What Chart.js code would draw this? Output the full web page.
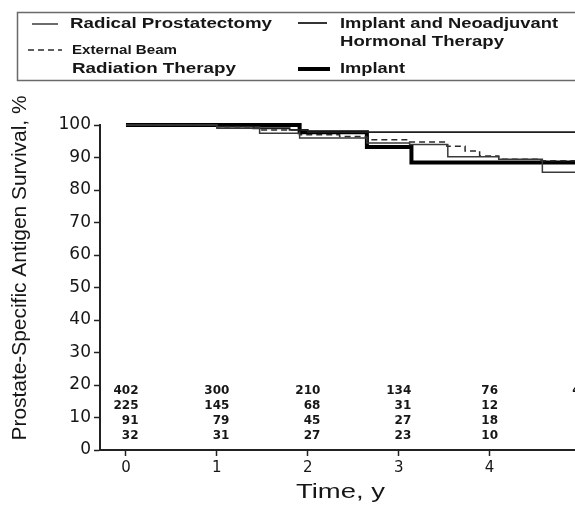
<!DOCTYPE html>
<html>
<head>
<meta charset="utf-8">
<script src="https://cdn.jsdelivr.net/npm/chart.js@4/dist/chart.umd.min.js"></script>
<style>
  html, body { margin: 0; padding: 0; background: #fff; overflow: hidden; width: 575px; height: 505px; }
  #wrap { position: absolute; left: 0; top: 0; width: 640px; height: 505px; }
</style>
</head>
<body>
<div id="wrap"><canvas id="chart" width="640" height="505"></canvas></div>
<script>
// Follow-up time (years) shown on the x axis
const years = [0, 1, 2, 3, 4, 5];

// Kaplan-Meier PSA survival estimates (%) by treatment group
const radicalTimes    = [0, 1.0, 1.47, 1.91, 2.65, 3.12, 3.54, 4.1, 4.58, 5.5];
const radicalSurvival = [100, 99, 97.5, 96, 94.5, 94, 90.2, 89.5, 85.5, 85.5];

const externalTimes    = [0, 1.0, 1.47, 1.91, 2.35, 2.65, 3.12, 3.53, 3.73, 3.89, 4.1, 4.55, 5.5];
const externalSurvival = [100, 99.5, 98.5, 97, 96.5, 95.5, 94.8, 93.5, 92, 90.5, 89.5, 89, 89];

const neoadjTimes    = [0, 1.0, 1.4, 1.8, 2.0, 5.5];
const neoadjSurvival = [100, 99.5, 99, 98.5, 97.8, 97.8];

const implantTimes    = [0, 1.91, 2.65, 3.14, 5.5];
const implantSurvival = [100, 97.8, 93.2, 88.5, 88.5];

// Numbers at risk below the curves, one row per group
const atRiskRow1 = [402, 300, 210, 134, 76, 41];
const atRiskRow2 = [225, 145, 68, 31, 12];
const atRiskRow3 = [91, 79, 45, 27, 18];
const atRiskRow4 = [32, 31, 27, 23, 10];

const seriesLabels = ['Radical Prostatectomy', 'External Beam Radiation Therapy',
                      'Implant and Neoadjuvant Hormonal Therapy', 'Implant'];

const toPoints = (xs, ys) => xs.map((x, i) => ({ x: x, y: ys[i] }));

const INK = '#161616';

// Draw text squeezed/stretched to a given width, centred on (cx, cy)
function fitText(ctx, text, cx, cy, width, font, rotation) {
  ctx.save();
  ctx.font = font;
  const m = ctx.measureText(text).width;
  ctx.translate(cx, cy);
  if (rotation) ctx.rotate(rotation);
  ctx.scale(width / m, 1);
  ctx.textAlign = 'center';
  ctx.textBaseline = 'middle';
  ctx.fillStyle = INK;
  ctx.fillText(text, 0, 0);
  ctx.restore();
}
function fitLeft(ctx, text, left, cy, width, font) {
  fitText(ctx, text, left + width / 2, cy, width, font, 0);
}

const decorations = {
  id: 'decorations',
  afterDraw(chart) {
    const ctx = chart.ctx;
    const ds = chart.data.datasets;
    const xs = chart.scales.x;
    const area = chart.chartArea;

    // legend frame
    ctx.save();
    ctx.strokeStyle = '#6a6a6a';
    ctx.lineWidth = 1.5;
    ctx.strokeRect(17.5, 12.5, 700, 68);
    ctx.restore();

    const sample = (d, x1, x2, y) => {
      ctx.save();
      ctx.strokeStyle = d.borderColor;
      ctx.lineWidth = d.borderWidth;
      ctx.setLineDash(d.borderDash || []);
      ctx.beginPath();
      ctx.moveTo(x1, y);
      ctx.lineTo(x2, y);
      ctx.stroke();
      ctx.restore();
    };
    const bold14 = 'bold 14px "Liberation Sans"';
    sample(ds[0], 32, 58, 24);
    fitLeft(ctx, 'Radical Prostatectomy', 70, 24, 202, bold14);
    sample(ds[1], 28, 62, 50);
    fitLeft(ctx, 'External Beam', 72, 51, 105, 'bold 12px "Liberation Sans"');
    fitLeft(ctx, 'Radiation Therapy', 72, 69, 164, bold14);
    sample(ds[2], 298, 327, 23);
    fitLeft(ctx, 'Implant and Neoadjuvant', 340, 24, 218, bold14);
    fitLeft(ctx, 'Hormonal Therapy', 340, 42, 164, bold14);
    sample(ds[3], 298, 330, 69);
    fitLeft(ctx, 'Implant', 340, 69, 65, bold14);

    // axis titles
    fitText(ctx, 'Prostate-Specific Antigen Survival, %', 20, 268, 345,
            '20px "Liberation Sans"', -Math.PI / 2);
    fitLeft(ctx, 'Time, y', 296, 492, 89, '21px "Liberation Sans"');

    // numbers at risk
    const rows = [atRiskRow1, atRiskRow2, atRiskRow3, atRiskRow4];
    const rowOffsets = [59, 44, 29, 14];
    ctx.save();
    ctx.font = 'bold 12px "DejaVu Sans"';
    ctx.fillStyle = INK;
    ctx.textBaseline = 'middle';
    ctx.textAlign = 'right';
    years.forEach((yr, col) => {
      const cx = xs.getPixelForValue(yr);
      let maxW = 0;
      rows.forEach(r => { if (r[col] !== undefined) maxW = Math.max(maxW, ctx.measureText(String(r[col])).width); });
      rows.forEach((r, i) => {
        if (r[col] === undefined) return;
        ctx.fillText(String(r[col]), cx + maxW / 2, area.bottom - rowOffsets[i]);
      });
    });
    ctx.restore();
  }
};

new Chart(document.getElementById('chart'), {
  type: 'line',
  data: {
    datasets: [
      { label: seriesLabels[0], data: toPoints(radicalTimes, radicalSurvival),
        borderColor: '#3a3a3a', borderWidth: 1.5, stepped: true },
      { label: seriesLabels[1], data: toPoints(externalTimes, externalSurvival),
        borderColor: '#2a2a2a', borderWidth: 1.5, borderDash: [6, 4], stepped: true },
      { label: seriesLabels[2], data: toPoints(neoadjTimes, neoadjSurvival),
        borderColor: '#1e1e1e', borderWidth: 1.8, stepped: true },
      { label: seriesLabels[3], data: toPoints(implantTimes, implantSurvival),
        borderColor: '#000', borderWidth: 4, stepped: true }
    ].map(d => Object.assign(d, { pointRadius: 0, fill: false, clip: false }))
  },
  options: {
    responsive: false,
    animation: false,
    layout: { padding: { top: 125, right: 14, left: 0, bottom: 0 } },
    plugins: { legend: { display: false }, tooltip: { enabled: false } },
    scales: {
      x: {
        type: 'linear',
        min: -0.2857,
        max: 5.5,
        afterBuildTicks: s => { s.ticks = years.map(v => ({ value: v })); },
        afterFit: s => { s.height = 55; },
        border: { color: '#222', width: 2 },
        grid: { drawOnChartArea: false, tickLength: 6, color: '#222', tickWidth: 1.5 },
        ticks: { color: INK, padding: 3, font: { family: 'DejaVu Sans', size: 15 } }
      },
      y: {
        min: 0,
        max: 100,
        ticks: { stepSize: 10, color: INK, padding: 3, font: { family: 'DejaVu Sans', size: 17 } },
        afterFit: s => { s.width = 100; },
        border: { color: '#222', width: 2 },
        grid: { drawOnChartArea: false, tickLength: 6, color: '#222', tickWidth: 1.5 }
      }
    }
  },
  plugins: [decorations]
});
</script>
</body>
</html>
